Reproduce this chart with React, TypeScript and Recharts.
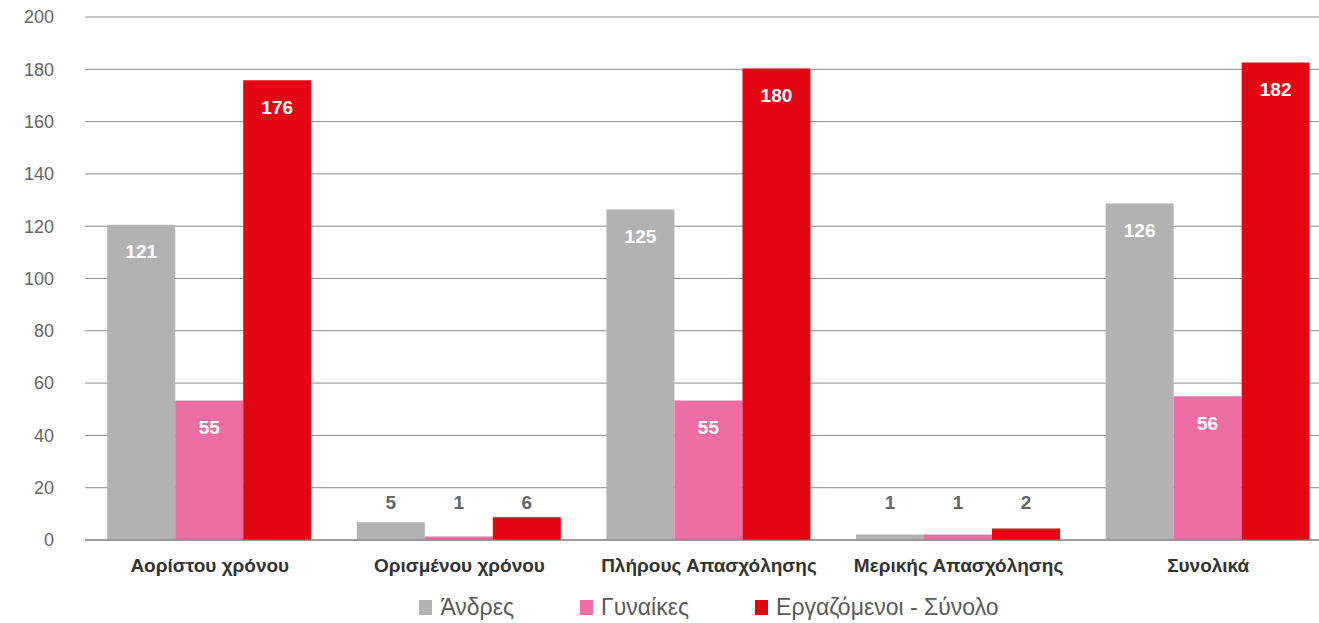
import { BarChart, Bar, XAxis, YAxis, CartesianGrid, Legend, LabelList } from 'recharts';

const categories = [
  'Αορίστου χρόνου',
  'Ορισμένου χρόνου',
  'Πλήρους Απασχόλησης',
  'Μερικής Απασχόλησης',
  'Συνολικά',
];

// bar heights as drawn in the picture
const andres = [120.6, 6.8, 126.4, 2.1, 128.7];
const gynaikes = [53.3, 1.3, 53.3, 2.1, 55.0];
const synolo = [175.8, 8.7, 180.3, 4.4, 182.6];

// numbers printed on the bars
const andresLabels = [121, 5, 125, 1, 126];
const gynaikesLabels = [55, 1, 55, 1, 56];
const synoloLabels = [176, 6, 180, 2, 182];

const yTicks = [0, 20, 40, 60, 80, 100, 120, 140, 160, 180, 200];

const series = [
  { key: 'andres', name: 'Άνδρες', color: '#b2b2b2', labels: andresLabels },
  { key: 'gynaikes', name: 'Γυναίκες', color: '#ec6ea5', labels: gynaikesLabels },
  { key: 'synolo', name: 'Εργαζόμενοι - Σύνολο', color: '#e30613', labels: synoloLabels },
];

const data = categories.map((c, i) => ({
  name: c,
  andres: andres[i],
  gynaikes: gynaikes[i],
  synolo: synolo[i],
}));

const FONT = '"Liberation Sans", Arial, sans-serif';

function makeLabel(labels: number[]) {
  return (props: any) => {
    const { x, y, width, height, index } = props;
    const text = labels[index];
    const cx = x + width / 2;
    if (height < 40) {
      return (
        <text x={cx} y={y + height - 38} textAnchor="middle" dominantBaseline="central"
          fill="#666" fontSize={19} fontWeight={700} fontFamily={FONT}>
          {text}
        </text>
      );
    }
    return (
      <text x={cx} y={y + 27} textAnchor="middle" dominantBaseline="central"
        fill="#fff" fontSize={19} fontWeight={700} fontFamily={FONT}>
        {text}
      </text>
    );
  };
}

function LegendContent() {
  return (
    <div style={{ width: 1333, paddingLeft: 85, paddingTop: 9, boxSizing: 'border-box', display: 'flex', justifyContent: 'center', alignItems: 'center', height: 40 }}>
      {series.map((s, i) => (
        <div key={s.key} style={{ display: 'flex', alignItems: 'center', marginRight: i < series.length - 1 ? 66 : 0 }}>
          <span style={{ display: 'inline-block', width: 13, height: 15, background: s.color, marginRight: 8 }} />
          <span style={{ fontFamily: FONT, fontSize: 23, color: '#5a5a5a', fontWeight: 300 }}>{s.name}</span>
        </div>
      ))}
    </div>
  );
}

export default function App() {
  return (
    <div style={{ position: 'absolute', left: 0, top: 0, width: 1319, height: 623, overflow: 'hidden', background: '#fff' }}>
      <BarChart
        width={1333}
        height={623}
        data={data}
        margin={{ top: 17, right: 0, left: 0, bottom: 0 }}
        barCategoryGap="8.9%"
        barGap={0}
      >
        <CartesianGrid vertical={false} stroke="#8c8c8c" />
        <XAxis
          dataKey="name"
          axisLine={{ stroke: '#777' }}
          tickLine={false}
          tickSize={0}
          tickMargin={19}
          height={43}
          interval={0}
          tick={{ fill: '#333', fontSize: 19, fontWeight: 700, fontFamily: FONT }}
        />
        <YAxis
          domain={[0, 200]}
          ticks={yTicks}
          axisLine={false}
          tickLine={false}
          tickSize={0}
          tickMargin={31}
          width={85}
          tick={{ fill: '#666', fontSize: 18, fontFamily: FONT }}
        />
        <Legend verticalAlign="bottom" content={<LegendContent />} wrapperStyle={{ left: 0, width: 1333, height: 40 }} />
        {series.map((s) => (
          <Bar key={s.key} dataKey={s.key} name={s.name} fill={s.color} isAnimationActive={false}>
            <LabelList dataKey={s.key} content={makeLabel(s.labels)} />
          </Bar>
        ))}
      </BarChart>
    </div>
  );
}
